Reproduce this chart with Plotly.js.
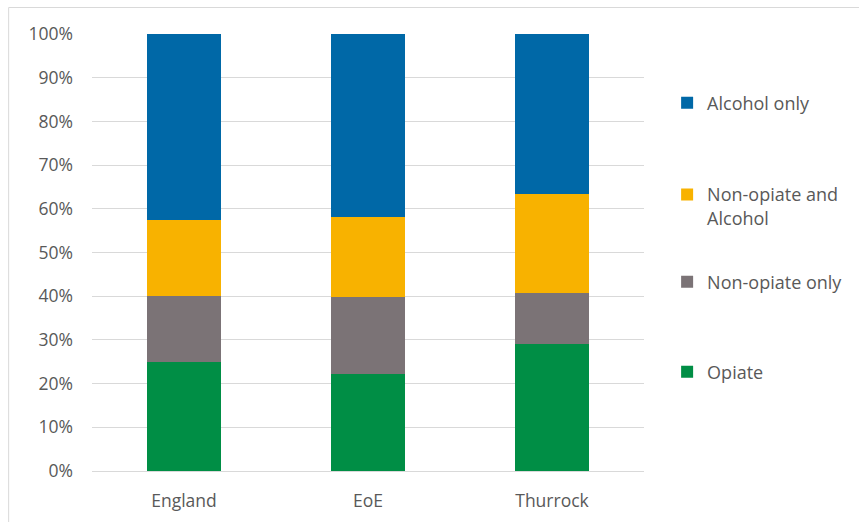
<!DOCTYPE html>
<html>
<head>
<meta charset="utf-8">
<script src="https://cdn.plot.ly/plotly-3.0.1.min.js"></script>
<style>html,body{margin:0;padding:0;background:#fff;}#chart{width:859px;height:522px;}</style>
</head>
<body>
<div id="chart"></div>
<script>
var categories = ["England", "EoE", "Thurrock"];
var opiate = [24.9, 22.3, 29.0];
var nonOpiateOnly = [15.2, 17.5, 11.8];
var nonOpiateAlcohol = [17.3, 18.4, 22.6];
var alcoholOnly = [42.6, 41.8, 36.6];
var seriesNames = ["Opiate", "Non-opiate only", "Non-opiate and<br>Alcohol", "Alcohol only"];
var seriesColors = ["#008e45", "#7b7376", "#f8b200", "#0068a7"];
var yTickVals = [0, 10, 20, 30, 40, 50, 60, 70, 80, 90, 100];
var yTickText = ["0%", "10%", "20%", "30%", "40%", "50%", "60%", "70%", "80%", "90%", "100%"];

var values = [opiate, nonOpiateOnly, nonOpiateAlcohol, alcoholOnly];
var legendIds = ["legend4", "legend3", "legend2", "legend"];
var traces = values.map(function (v, i) {
  return {
    type: "bar",
    x: categories,
    y: v,
    name: seriesNames[i],
    legend: legendIds[i],
    marker: { color: seriesColors[i], line: { width: 0 } },
    hoverinfo: "skip"
  };
});

var tickFont = { family: "Open Sans, sans-serif", size: 17.5, color: "#595959" };
var legFont = { family: "Open Sans, sans-serif", size: 18, color: "#595959" };
function leg(y) {
  return {
    x: 1.04, xanchor: "left",
    y: y, yanchor: "middle",
    valign: "top",
    bgcolor: "rgba(0,0,0,0)",
    font: legFont,
    itemwidth: 30
  };
}
var layout = {
  width: 859,
  height: 522,
  barmode: "stack",
  bargap: 0.6,
  margin: { l: 92, r: 214, t: 34, b: 51 },
  paper_bgcolor: "#fff",
  plot_bgcolor: "#fff",
  font: tickFont,
  showlegend: true,
  legend: leg(0.842),
  legend2: leg(0.606),
  legend3: leg(0.4325),
  legend4: leg(0.2265),
  xaxis: {
    type: "category",
    showgrid: false,
    showline: true,
    linecolor: "#d9d9d9",
    linewidth: 1,
    ticks: "",
    ticklabelstandoff: 14,
    tickfont: tickFont,
    fixedrange: true
  },
  yaxis: {
    range: [0, 100],
    tickvals: yTickVals,
    ticktext: yTickText,
    showgrid: true,
    gridcolor: "#d9d9d9",
    gridwidth: 1,
    zeroline: false,
    showline: false,
    ticks: "",
    ticklabelstandoff: 18,
    tickfont: tickFont,
    fixedrange: true
  },
  shapes: [{
    type: "rect", xref: "paper", yref: "paper",
    x0: -0.151, x1: 1.41, y0: -0.14, y1: 1.0606,
    line: { color: "#d9d9d9", width: 1 }
  }]
};

Plotly.newPlot("chart", traces, layout, { displayModeBar: false, staticPlot: true });
</script>
</body>
</html>
